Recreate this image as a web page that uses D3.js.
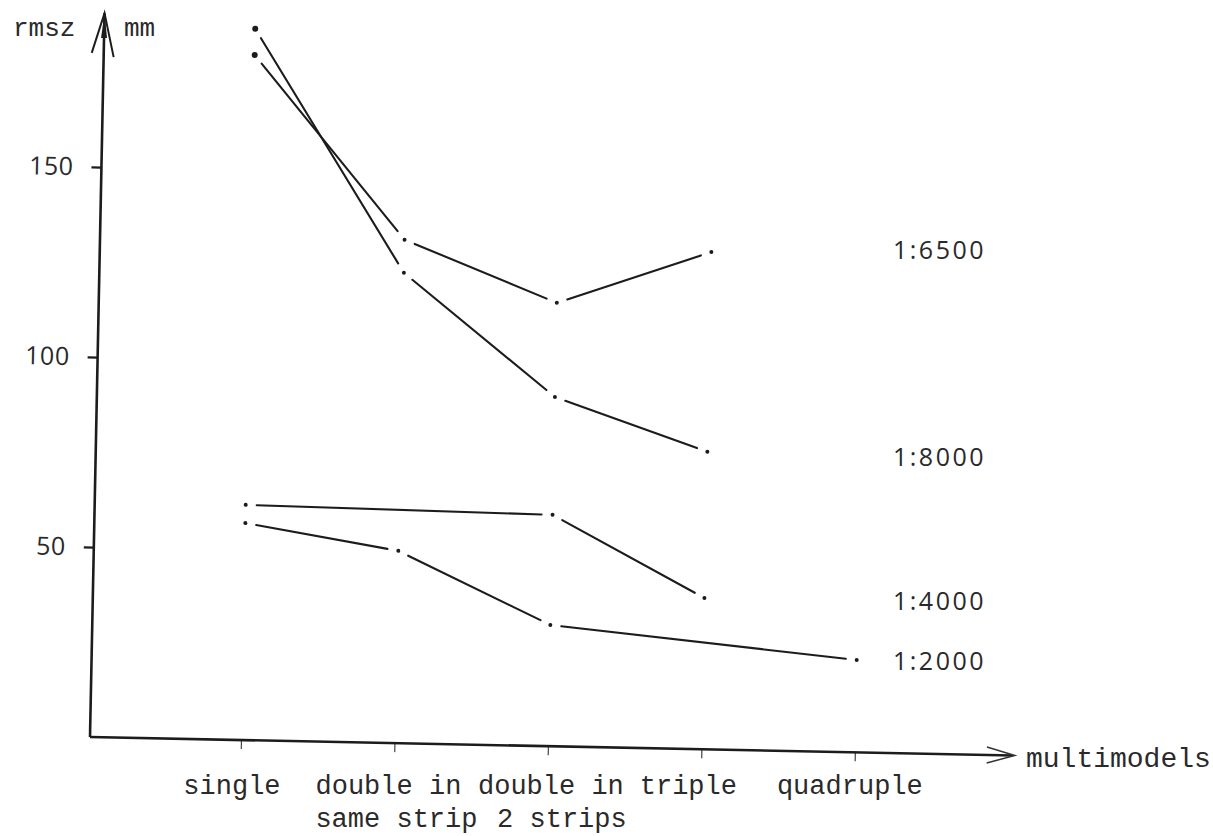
<!DOCTYPE html>
<html><head><meta charset="utf-8">
<script src="https://cdn.jsdelivr.net/npm/d3@7"></script>
<style>body{margin:0;background:#fff}</style>
</head><body>
<svg id="chart" width="1213" height="836"></svg>
<script>
// ---- data ----
const categories = ["single", "double in same strip", "double in 2 strips", "triple", "quadruple"];
const categoryLines = [["single"], ["double in", "same strip"], ["double in", "2 strips"], ["triple"], ["quadruple"]];
const seriesNames = ["1:6500", "1:8000", "1:4000", "1:2000"];
const values6500 = [180.3, 132.5, 116.7, 130.9, null];
const values8000 = [187.2, 123.8, 91.9, 78.3, null];
const values4000 = [61.9, null, 60.9, 39.8, null];
const values2000 = [57.1, 50.6, 31.9, null, 24.3];
const seriesLabelValues = [132.5, 78, 40, 24.3];
const yTicks = [50, 100, 150];
const yUnitLeft = "rmsz", yUnitRight = "mm", xTitle = "multimodels";

const seriesValues = [values6500, values8000, values4000, values2000];

// ---- layout ----
const svg = d3.select("#chart");
const ox = 90, oy = 737;
const tilt = 1.15;                       // hand-drawn axes are slightly tilted
const th = tilt * Math.PI / 180;
const rot = (px, py) => {
  const dx = px - ox, dy = py - oy;
  return [ox + dx * Math.cos(th) - dy * Math.sin(th), oy + dx * Math.sin(th) + dy * Math.cos(th)];
};
const ink = "#1c1c1c";
const textInk = "#2a2a2a";
const monoFont = "'Liberation Mono', 'Courier New', monospace";
const sansFont = "'Open Sans', 'Noto Sans', sans-serif";
// typed label line shifts relative to tick (typewriter placement)
const labelLineShift = [[-9], [-6, 2], [3, 14], [-13], [-5]];
const labelRowBaselines = [794, 827];

const x = d3.scalePoint().domain(categories).range([241, 855]);
const y = d3.scaleLinear().domain([0, 190]).range([oy, 15]);

const g = svg.append("g").attr("transform", `rotate(${tilt}, ${ox}, ${oy})`);

// y axis ticks + labels
const yAxis = g.append("g").attr("transform", `translate(${ox},0)`)
  .call(d3.axisLeft(y).tickValues(yTicks).tickSize(10).tickPadding(18).tickSizeOuter(0));
yAxis.select(".domain").remove();
yAxis.selectAll(".tick line").attr("stroke", ink).attr("stroke-width", 2.2);
yAxis.selectAll(".tick text").attr("fill", textInk).attr("font-family", sansFont)
  .attr("font-size", 25).attr("letter-spacing", 0.5);

// x axis ticks
const xAxis = g.append("g").attr("transform", `translate(0,${oy})`)
  .call(d3.axisBottom(x).tickSize(9).tickFormat("").tickSizeOuter(0));
xAxis.select(".domain").remove();
xAxis.selectAll(".tick line").attr("stroke", "#444").attr("stroke-width", 1.2);

// typed category labels (horizontal)
const labelG = svg.append("g").attr("font-family", monoFont).attr("font-size", 27)
  .attr("fill", textInk).attr("text-anchor", "middle");
categories.forEach((c, i) => {
  const sx = rot(x(c), oy)[0];
  categoryLines[i].forEach((ln, k) => {
    labelG.append("text").attr("x", sx + labelLineShift[i][k]).attr("y", labelRowBaselines[k]).text(ln);
  });
});

// axis lines with arrows
g.append("path").attr("d", `M${ox},${oy} L${ox},${y(190) - 2}`)
  .attr("stroke", ink).attr("stroke-width", 2.6).attr("fill", "none");
g.append("path").attr("d", `M${ox - 12},${y(180)} L${ox},${y(190) - 2} L${ox + 10},${y(179)}`)
  .attr("stroke", ink).attr("stroke-width", 2).attr("fill", "none");
g.append("path").attr("d", `M${ox - 3},${y(184)} L${ox},${y(190) - 2} L${ox + 3},${y(184)} Z`)
  .attr("fill", ink);
const xEnd = 1015;
g.append("path").attr("d", `M${ox},${oy} L${xEnd - 2},${oy}`)
  .attr("stroke", ink).attr("stroke-width", 2.6).attr("fill", "none");
g.append("path").attr("d", `M${xEnd - 28},${oy - 8} L${xEnd},${oy} L${xEnd - 28},${oy + 8}`)
  .attr("stroke", "#333").attr("stroke-width", 1.5).attr("fill", "none");

// series lines: segments with gaps around points, dots at points
const gap = 11;
seriesValues.forEach((vals, si) => {
  const pts = categories.map((c, i) => ({ c, v: vals[i] })).filter(p => p.v !== null)
    .map(p => [x(p.c), y(p.v)]);
  const sg = g.append("g");
  for (let i = 0; i < pts.length - 1; i++) {
    const [x1, y1] = pts[i], [x2, y2] = pts[i + 1];
    const len = Math.hypot(x2 - x1, y2 - y1);
    const ux = (x2 - x1) / len, uy = (y2 - y1) / len;
    sg.append("line")
      .attr("x1", x1 + ux * gap).attr("y1", y1 + uy * gap)
      .attr("x2", x2 - ux * gap).attr("y2", y2 - uy * gap)
      .attr("stroke", ink).attr("stroke-width", 2.1).attr("stroke-linecap", "round");
  }
  sg.selectAll("circle").data(pts).join("circle")
    .attr("cx", d => d[0]).attr("cy", d => d[1]).attr("r", (d, i) => i === 0 && d[1] < 100 ? 3 : 2)
    .attr("fill", ink);
  // series label, typed horizontally at the level of the series end
  const ly = rot(884, y(seriesLabelValues[si]))[1];
  svg.append("text").attr("x", 893).attr("y", ly)
    .attr("dy", "0.36em").attr("fill", textInk).attr("font-family", sansFont)
    .attr("font-size", 25).attr("letter-spacing", 2.5).text(seriesNames[si]);
});

// axis titles
svg.append("text").attr("x", 13).attr("y", 36).attr("fill", textInk)
  .attr("font-family", monoFont).attr("font-size", 26).text(yUnitLeft);
svg.append("text").attr("x", 124).attr("y", 36).attr("fill", textInk)
  .attr("font-family", monoFont).attr("font-size", 26).text(yUnitRight);
svg.append("text").attr("x", 1026).attr("y", 767).attr("fill", textInk)
  .attr("font-family", monoFont).attr("font-size", 28).text(xTitle);
</script>
</body></html>
